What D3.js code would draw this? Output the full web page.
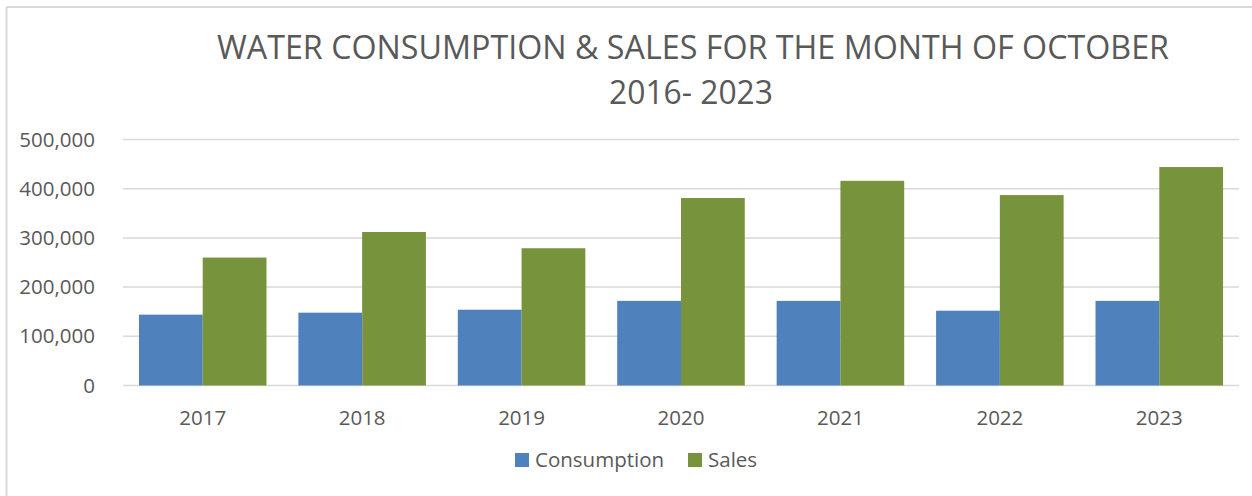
<!DOCTYPE html>
<html>
<head>
<meta charset="utf-8">
<script src="https://cdn.jsdelivr.net/npm/d3@7"></script>
<style>
  body { margin: 0; background: #fff; }
  svg { display: block; }
</style>
</head>
<body>
<svg></svg>
<script>
const years = ["2017", "2018", "2019", "2020", "2021", "2022", "2023"];
const consumption = [144000, 148000, 154000, 172000, 172000, 152000, 172000];
const sales = [260000, 312000, 279000, 381000, 416000, 387000, 444000];
const seriesNames = ["Consumption", "Sales"];
const yTicks = [0, 100000, 200000, 300000, 400000, 500000];

const width = 1252, height = 496;
const plot = { left: 123, right: 1239, top: 139.5, bottom: 385.5 };
const colors = { Consumption: "#4F81BD", Sales: "#77933C" };
const textColor = "#595959";
const font = "'Open Sans', 'Liberation Sans', sans-serif";

const data = years.map((y, i) => ({ year: y, Consumption: consumption[i], Sales: sales[i] }));

const svg = d3.select("svg")
    .attr("width", width)
    .attr("height", height)
    .style("font-family", font);

// chart frame (top and left edges visible)
svg.append("line")
    .attr("x1", 6.5).attr("y1", 7).attr("x2", width).attr("y2", 7)
    .attr("stroke", "#d9d9d9").attr("stroke-width", 2);
svg.append("line")
    .attr("x1", 6.5).attr("y1", 7).attr("x2", 6.5).attr("y2", height)
    .attr("stroke", "#d9d9d9").attr("stroke-width", 2);

const x = d3.scaleBand()
    .domain(years)
    .range([plot.left, plot.right])
    .paddingInner(0.2)
    .paddingOuter(0.1);

const x1 = d3.scaleBand()
    .domain(seriesNames)
    .range([0, x.bandwidth()]);

const y = d3.scaleLinear()
    .domain([0, 500000])
    .range([plot.bottom, plot.top]);

// gridlines
svg.append("g")
    .selectAll("line")
    .data(yTicks)
    .join("line")
    .attr("x1", plot.left)
    .attr("x2", plot.right)
    .attr("y1", d => y(d))
    .attr("y2", d => y(d))
    .attr("stroke", "#d9d9d9")
    .attr("stroke-width", 1.5);

// y labels
svg.append("g")
    .selectAll("text")
    .data(yTicks)
    .join("text")
    .attr("x", 95)
    .attr("y", d => y(d))
    .attr("dy", "0.35em")
    .attr("text-anchor", "end")
    .attr("font-size", "20.5px")
    .attr("fill", textColor)
    .text(d => d3.format(",")(d));

// bars
svg.append("g")
    .selectAll("g")
    .data(data)
    .join("g")
    .attr("transform", d => `translate(${x(d.year)},0)`)
    .selectAll("rect")
    .data(d => seriesNames.map(k => ({ key: k, value: d[k] })))
    .join("rect")
    .attr("x", d => x1(d.key))
    .attr("y", d => y(d.value))
    .attr("width", x1.bandwidth())
    .attr("height", d => y(0) - y(d.value))
    .attr("fill", d => colors[d.key]);

// x labels
svg.append("g")
    .selectAll("text")
    .data(years)
    .join("text")
    .attr("x", d => x(d) + x.bandwidth() / 2)
    .attr("y", 425)
    .attr("text-anchor", "middle")
    .attr("font-size", "20.5px")
    .attr("fill", textColor)
    .text(d => d);

// title
svg.append("text")
    .attr("x", 693)
    .attr("y", 59)
    .attr("text-anchor", "middle")
    .attr("font-size", "32px")
    .attr("fill", textColor)
    .attr("textLength", 952)
    .attr("lengthAdjust", "spacingAndGlyphs")
    .text("WATER CONSUMPTION & SALES FOR THE MONTH OF OCTOBER");

svg.append("text")
    .attr("x", 691)
    .attr("y", 104)
    .attr("text-anchor", "middle")
    .attr("font-size", "32px")
    .attr("fill", textColor)
    .attr("textLength", 164)
    .attr("lengthAdjust", "spacingAndGlyphs")
    .text("2016- 2023");

// legend
const legendPos = [515, 688];
const legend = svg.append("g")
    .selectAll("g")
    .data(seriesNames)
    .join("g")
    .attr("transform", (d, i) => `translate(${legendPos[i]},453)`);
legend.append("rect")
    .attr("width", 14)
    .attr("height", 14)
    .attr("fill", d => colors[d]);
legend.append("text")
    .attr("x", 20)
    .attr("y", 14)
    .attr("font-size", "20.5px")
    .attr("fill", textColor)
    .text(d => d);
</script>
</body>
</html>
